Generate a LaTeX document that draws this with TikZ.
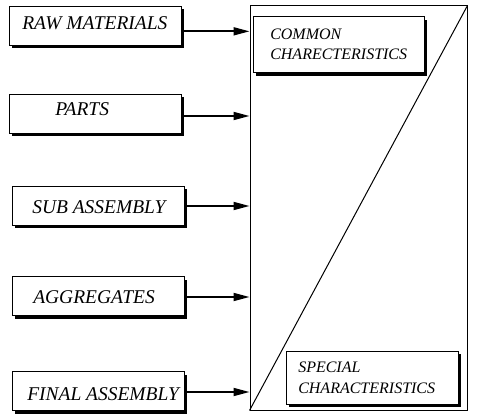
\documentclass[tikz,border=0pt]{standalone}
\usepackage{fontspec}
\setmainfont{Liberation Serif}
\usetikzlibrary{arrows.meta,shadows}
\begin{document}
\begin{tikzpicture}[x=0.75pt,y=-0.75pt,
  sbox/.style={draw,line width=0.75pt,fill=white,inner sep=0pt,
    drop shadow={shadow xshift=2.25pt,shadow yshift=-2.25pt,fill=black,opacity=1}},
  lbox/.style={sbox,minimum width=129pt,minimum height=29.25pt},
  ltext/.style={anchor=base west,inner sep=0pt,font=\fontsize{14.6pt}{16pt}\selectfont\itshape},
  rtext/.style={anchor=base west,inner sep=0pt,font=\fontsize{12pt}{14pt}\selectfont\itshape},
  arr/.style={line width=1.3pt,-{Triangle[length=12pt,width=6pt]}}]
\useasboundingbox (0,0) rectangle (477,420);
% big rectangle
\node[draw,line width=0.75pt,minimum width=162.75pt,minimum height=303pt,inner sep=0pt] (big) at (358.5,208) {};
\draw[line width=0.75pt] (big.south west) -- (big.north east);
% left boxes
\node[lbox] (raw) at (95,26) {};
\node[lbox] (parts) at (95,114) {};
\node[lbox] (sub) at (98,205.5) {};
\node[lbox] (agg) at (98,296) {};
\node[lbox] (fin) at (98,391) {};
\node[ltext] (traw) at (22,30) {RAW MATERIALS};
\node[ltext] (tparts) at (55,116) {PARTS};
\node[ltext] (tsub) at (32,213) {SUB ASSEMBLY};
\node[ltext] (tagg) at (33,303) {AGGREGATES};
\node[ltext] (tfin) at (27,400) {FINAL ASSEMBLY};
% right boxes
\node[sbox,minimum width=128.25pt,minimum height=42pt] (common) at (338.5,45) {};
\node[sbox,minimum width=129pt,minimum height=39.75pt] (special) at (372,377.5) {};
\node[rtext] (tc1) at (270,39.5) {COMMON};
\node[rtext] (tc2) at (270,60) {CHARECTERISTICS};
\node[rtext] (ts1) at (298,372) {SPECIAL};
\node[rtext] (ts2) at (298,393) {CHARACTERISTICS};
% arrows
\draw[arr] ([yshift=-4pt]raw.east) -- ([yshift=-4pt]raw.east -| big.west);
\draw[arr] ([yshift=-1.5pt]parts.east) -- ([yshift=-1.5pt]parts.east -| big.west);
\draw[arr] ([yshift=-0.375pt]sub.east) -- ([yshift=-0.375pt]sub.east -| big.west);
\draw[arr] ([yshift=-0.75pt]agg.east) -- ([yshift=-0.75pt]agg.east -| big.west);
\draw[arr] ([yshift=-0.75pt]fin.east) -- ([yshift=-0.75pt]fin.east -| big.west);
\end{tikzpicture}
\end{document}
